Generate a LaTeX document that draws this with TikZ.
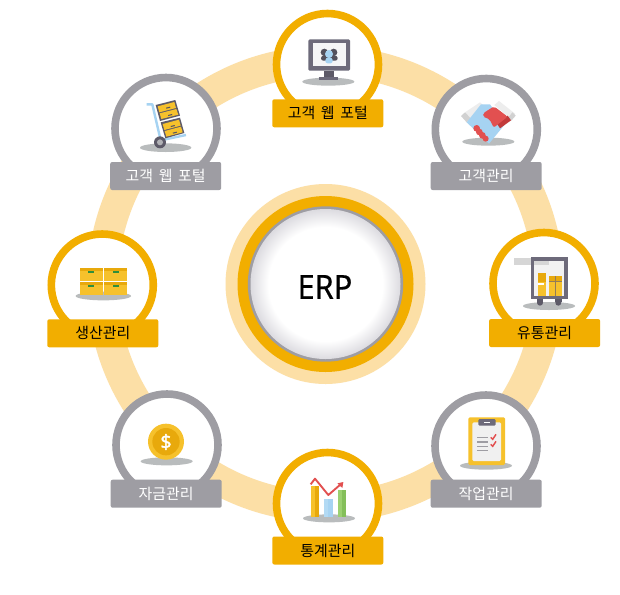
\documentclass[tikz,border=0pt]{standalone}
\usepackage{fontspec}
\setmainfont{Noto Sans}
\newfontfamily\krfont{Noto Sans CJK KR}
\newfontfamily\erpfont[FakeStretch=0.92,FakeBold=0.35]{Noto Sans}
\newfontfamily\dollarfont[FakeBold=1.5]{Noto Sans}
\definecolor{amber}{HTML}{F2AE00}
\definecolor{pale}{HTML}{FCDFA6}
\definecolor{greyring}{HTML}{9E9DA3}
\definecolor{shadowc}{HTML}{B9BCBD}
\definecolor{slate}{HTML}{6D6A7A}
\definecolor{ybox}{HTML}{F6C12C}
\definecolor{ydark}{HTML}{E8A90C}
\definecolor{lblue}{HTML}{A6D3F2}
\definecolor{redc}{HTML}{E25050}
\definecolor{redd}{HTML}{C23A3A}
\definecolor{discedge}{HTML}{DCDBE0}
\definecolor{greenl}{HTML}{9BD071}
\definecolor{greend}{HTML}{84BF5A}
\definecolor{greentab}{HTML}{2F8F3C}
\pgfdeclareradialshading{erpdisc}{\pgfpoint{0bp}{0bp}}{color(0bp)=(white); color(19bp)=(white); color(25bp)=(discedge); color(50bp)=(discedge)}
\tikzset{
  ringa/.style={circle,draw=amber,fill=white,line width=5.7pt,minimum size=76.5pt,inner sep=0pt},
  ringg/.style={circle,draw=greyring,fill=white,line width=5.7pt,minimum size=76.5pt,inner sep=0pt},
  laba/.style={fill=amber,text=black,rounded corners=1.5pt,minimum width=83.25pt,minimum height=21pt,inner sep=0pt,font=\krfont\fontsize{11.2pt}{12pt}\selectfont},
  labg/.style={laba,fill=greyring,text=white},
  shad/.style={fill=shadowc,draw=none},
  icon/.style={scale=1/3}
}
\begin{document}
\begin{tikzpicture}[x=0.75pt,y=-0.75pt]
\useasboundingbox (0,0) rectangle (620,594);
\fill[white] (0,0) rectangle (620,594);
% outer band
\coordinate (c) at (325.5,284);
\draw[pale,line width=23pt] (c) circle[radius=223];
% centre
\node[circle,fill=pale,minimum size=150pt,inner sep=0pt] (erpo) at (c) {};
\node[circle,fill=amber,minimum size=132pt,inner sep=0pt] (erpm) at (c) {};
\node[circle,fill=greyring,minimum size=116.5pt,inner sep=0pt] (erpg) at (c) {};
\shade[shading=erpdisc] (c) circle[radius=75];
\node[font=\erpfont\fontsize{25pt}{28pt}\selectfont,text=black,inner sep=0pt] (erp) at (325,287) {ERP};
% rings
\node[ringa] (n1) at (327.5,64.5) {};
\node[ringg] (n2) at (486.3,129.5) {};
\node[ringa] (n3) at (544,283.5) {};
\node[ringg] (n4) at (486,446) {};
\node[ringa] (n5) at (327.5,503.5) {};
\node[ringg] (n6) at (167,445) {};
\node[ringa] (n7) at (102.3,285) {};
\node[ringg] (n8) at (166,128.5) {};
% monitor
\begin{scope}[shift={(260,0)},icon]
\fill[shad] (205,245) ellipse[x radius=78,y radius=12];
\fill[slate,rounded corners=1pt] (145,118) rectangle (270,212);
\fill[slate!85!black] (192,212) rectangle (222,232);
\fill[slate] (178,232) rectangle (235,240);
\fill[white!93!slate] (158,130) rectangle (258,198);
\fill[slate!75!black] (193,157) circle[radius=11] (221,157) circle[radius=11];
\fill[slate!75!black,rounded corners=2pt] (182,182) -- (184,166) -- (232,166) -- (234,182) -- cycle;
\fill[lblue] (207,162) circle[radius=12];
\fill[lblue,rounded corners=2pt] (195,190) -- (197,172) -- (217,172) -- (219,190) -- cycle;
\end{scope}
% hand truck
\begin{scope}[shift={(100,65)},icon]
\fill[shad] (197,248) ellipse[x radius=77,y radius=13];
\draw[lblue,line width=1.8pt,line join=round] (140,118) -- (157,118) -- (182,226) -- (258,210);
\fill[slate!85!black] (167,120) -- (226,105) -- (240,152) -- (180,168) -- cycle;
\fill[ybox] (173,124) -- (223,111) -- (228,129) -- (178,142) -- cycle;
\fill[ybox] (179,145) -- (229,132) -- (235,149) -- (184,162) -- cycle;
\fill[slate!85!black] (182,172) -- (240,158) -- (253,204) -- (196,220) -- cycle;
\fill[ybox] (188,177) -- (237,164) -- (242,182) -- (193,195) -- cycle;
\fill[ybox] (194,198) -- (243,185) -- (248,202) -- (199,215) -- cycle;
\fill[slate!80!black] (198,128) -- (210,125) -- (211,128) -- (199,131) -- cycle;
\fill[slate!80!black] (204,150) -- (216,147) -- (217,150) -- (205,153) -- cycle;
\fill[slate!80!black] (212,183) -- (224,180) -- (225,183) -- (213,186) -- cycle;
\fill[slate!80!black] (218,203) -- (230,200) -- (231,203) -- (219,206) -- cycle;
\fill[slate!85!black] (180,232) circle[radius=18];
\fill[greyring!80!white] (180,232) circle[radius=9];
\end{scope}
% handshake
\begin{scope}[shift={(425,65)},icon]
\fill[shad] (190,230) ellipse[x radius=78,y radius=12];
\fill[white!93!black] (120,142) -- (165,112) -- (180,125) -- (135,160) -- cycle;
\fill[white!82!black] (108,153) -- (120,142) -- (137,160) -- (125,172) -- cycle;
\fill[white!93!black] (222,108) -- (270,146) -- (255,160) -- (208,120) -- cycle;
\fill[white!82!black] (250,158) -- (262,142) -- (272,152) -- (258,168) -- cycle;
\fill[lblue] (125,172) -- (168,118) -- (195,118) -- (238,180) -- (192,236) -- cycle;
\fill[redd] (248,152) -- (258,166) -- (225,190) -- (213,172) -- cycle;
\fill[redc,rounded corners=1.5pt] (174,155) -- (174,145) -- (207,124) -- (248,155) -- (206,188) -- (194,163) -- (182,158) -- cycle;
\fill[redc] (155,190) circle[radius=10] (163,201) circle[radius=10] (172,211) circle[radius=10] (182,221) circle[radius=9];
\end{scope}
% boxes
\begin{scope}[shift={(40,225)},icon]
\fill[shad] (190,213) ellipse[x radius=83,y radius=13];
\foreach \bx/\by in {120/130,193/130,120/172,193/172}{
  \fill[ybox] (\bx,\by) rectangle ++(68,38);
  \fill[ydark] (\bx,\by) rectangle ++(68,9);
  \fill[greentab] ({\bx+25},{\by+9}) rectangle ++(18,6);
}
\end{scope}
% truck
\begin{scope}[shift={(485,225)},icon]
\fill[shad] (192,243) ellipse[x radius=78,y radius=12];
\fill[white!95!black] (143,102) rectangle (243,217);
\fill[white!84!black] (88,98) rectangle (192,120);
\draw[slate,line width=2.4pt] (143,102) rectangle (243,217);
\fill[ybox] (158,145) rectangle (184,213);
\fill[ydark] (158,145) rectangle (184,170);
\fill[white] (160,175) rectangle (176,180);
\fill[ybox] (191,152) rectangle (232,213);
\fill[ydark] (191,152) rectangle (232,168);
\fill[slate!70!ydark] (209,152) rectangle (213,213);
\fill[slate!70!ydark] (191,167) rectangle (232,171);
\fill[slate!85!black] (155,222) rectangle (175,232);
\fill[slate!85!black] (165,233) circle[radius=9];
\fill[slate!85!black] (210,222) rectangle (230,232);
\fill[slate!85!black] (220,233) circle[radius=9];
\end{scope}
% coin
\begin{scope}[shift={(100,385)},icon]
\fill[shad] (200,229) ellipse[x radius=78,y radius=12];
\fill[ybox] (198,170) circle[radius=54];
\fill[ydark] (198,170) circle[radius=41];
\node[text=white,font=\dollarfont\fontsize{14.5pt}{15pt}\selectfont,inner sep=0pt] (dollar) at (198,171) {\$};
\end{scope}
% clipboard
\begin{scope}[shift={(425,385)},icon]
\fill[shad] (183,242) ellipse[x radius=78,y radius=12];
\fill[ybox,rounded corners=1pt] (130,97) rectangle (240,240);
\fill[white!94!black,rounded corners=1pt] (142,112) rectangle (228,228);
\fill[slate,rounded corners=1pt] (160,102) rectangle (212,122);
\fill[white] (177,110) rectangle (195,114);
\foreach \ly in {157,171,184,197}{
  \draw[greyring,line width=.9pt] (156,\ly) -- (188,\ly);
}
\foreach \cy in {157,178}{
  \draw[redc,line width=1.1pt] (197,\cy) -- (203,{\cy+6}) -- (213,{\cy-9});
}
\end{scope}
% chart
\begin{scope}[shift={(260,440)},icon]
\fill[shad] (207,235) ellipse[x radius=78,y radius=12];
\fill[ybox] (152,138) rectangle (165,232);
\fill[ydark] (165,138) rectangle (178,232);
\fill[lblue!85!white] (192,178) rectangle (205,232);
\fill[lblue] (205,178) rectangle (218,232);
\fill[greenl] (233,150) rectangle (246,232);
\fill[greend] (246,150) rectangle (259,232);
\draw[redc,line width=1.4pt,line join=round] (152,133) -- (165,116) -- (205,165) -- (243,132);
\fill[redc] (250,126) -- (232,130) -- (247,144) -- cycle;
\end{scope}
% labels
\node[laba] (l1) at (327.8,113.3) {고객 \kern1.75pt 웹 \kern1.75pt 포털};
\node[labg] (l2) at (486.2,176) {고객관리};
\node[laba] (l3) at (544.6,333) {유통관리};
\node[labg] (l4) at (486.2,493.7) {작업관리};
\node[laba] (l5) at (327.8,550.5) {통계관리};
\node[labg] (l6) at (166.2,493.7) {자금관리};
\node[laba] (l7) at (102.8,333.3) {생산관리};
\node[labg] (l8) at (165.7,176) {고객 \kern1.75pt 웹 \kern1.75pt 포털};
\end{tikzpicture}
\end{document}
